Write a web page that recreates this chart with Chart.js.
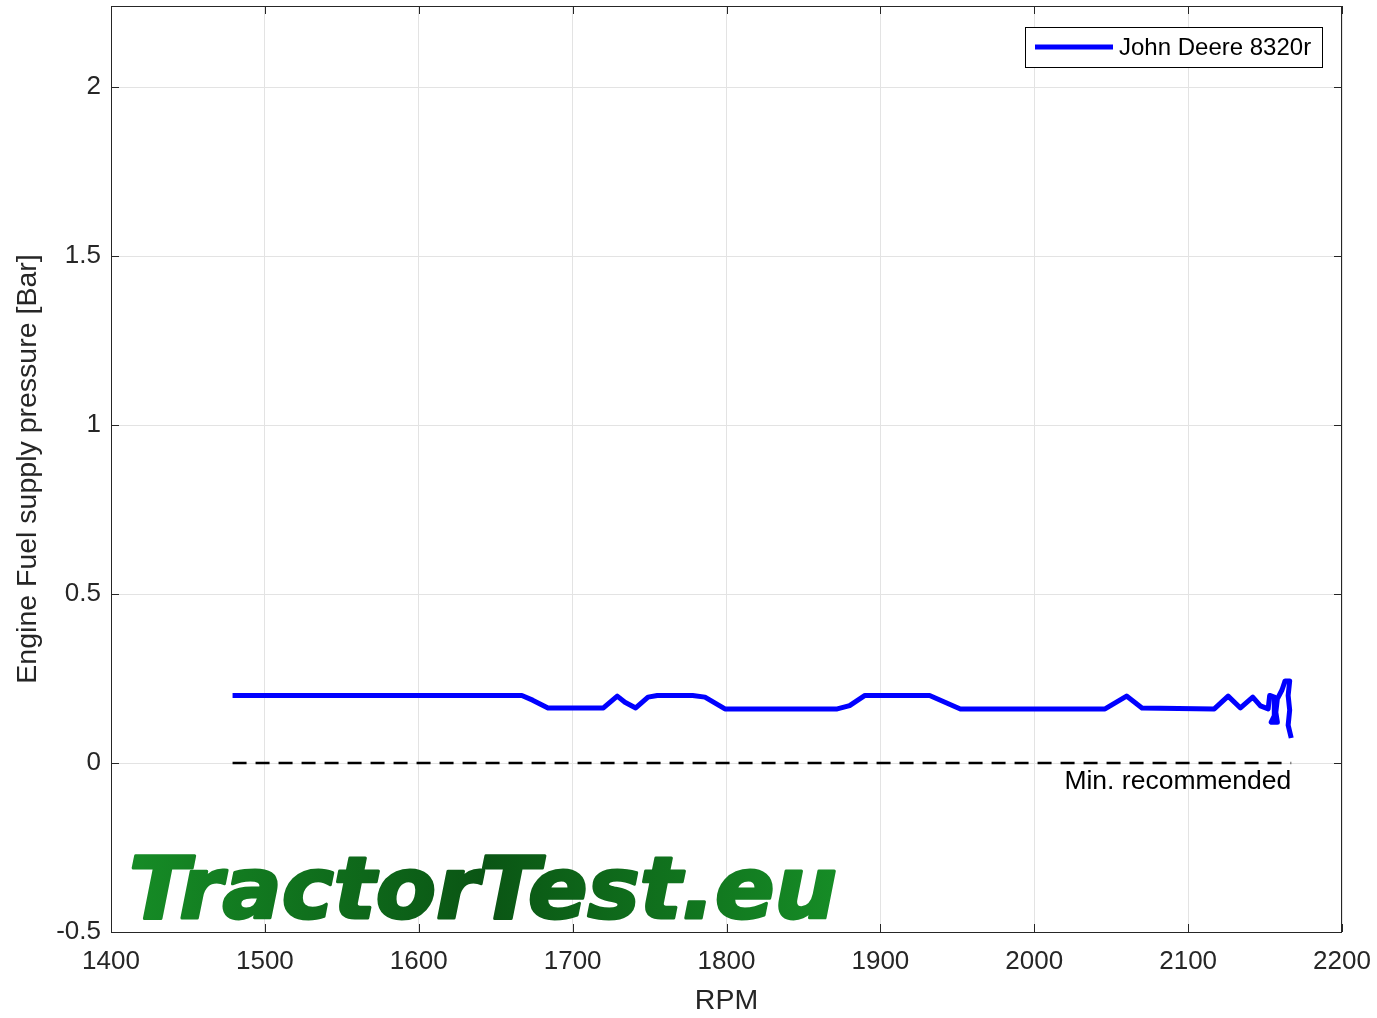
<!DOCTYPE html>
<html>
<head>
<meta charset="utf-8">
<script src="https://cdn.jsdelivr.net/npm/chart.js@4"></script>
<style>
  body { margin: 0; background: #fff; }
  #wrap { width: 1377px; height: 1018px; }
</style>
</head>
<body>
<div id="wrap"><canvas id="mycanvas" width="1377" height="1018"></canvas></div>
<script>
// measured curve, RPM vs supply pressure
var rpm = [1479, 1667, 1674, 1684, 1720, 1729, 1734, 1741, 1749, 1755, 1778, 1786, 1799,
           1872, 1880, 1890, 1932, 1949, 1952, 2046, 2060, 2070, 2117, 2126, 2134, 2142,
           2147, 2152, 2153, 2156, 2156, 2154, 2158, 2157, 2158, 2161, 2163, 2166, 2165,
           2166, 2165, 2167];
var pressure = [0.2, 0.2, 0.186, 0.163, 0.163, 0.198, 0.18, 0.163, 0.195, 0.2, 0.2, 0.195, 0.16,
                0.16, 0.17, 0.2, 0.2, 0.166, 0.16, 0.16, 0.198, 0.163, 0.16, 0.198, 0.163, 0.195,
                0.169, 0.16, 0.2, 0.195, 0.14, 0.121, 0.121, 0.15, 0.19, 0.216, 0.243, 0.243, 0.2,
                0.157, 0.112, 0.074];

var minRpm = [1479, 2167];
var minPressure = [0, 0];

var xTicks = [1400, 1500, 1600, 1700, 1800, 1900, 2000, 2100, 2200];
var yTicks = [-0.5, 0, 0.5, 1, 1.5, 2];

var seriesName = "John Deere 8320r";
var minLabel = "Min. recommended";
var watermark = "TractorTest.eu";

var txtColor = "#262626";
var fontFam = "'Liberation Sans', Arial, sans-serif";

function toPoints(xs, ys) {
  var pts = [];
  for (var i = 0; i < xs.length; i++) pts.push({x: xs[i], y: ys[i]});
  return pts;
}

var extras = {
  id: "extras",
  afterDatasetsDraw: function(chart) {
    var ctx = chart.ctx;
    var a = chart.chartArea;
    var xs = chart.scales.x, ys = chart.scales.y;
    ctx.save();

    // box + inward ticks
    ctx.strokeStyle = txtColor;
    ctx.lineWidth = 1;
    ctx.strokeRect(a.left + 0.5, a.top + 0.5, a.right - a.left - 1, a.bottom - a.top);
    ctx.beginPath();
    xTicks.forEach(function(v) {
      var px = Math.round(xs.getPixelForValue(v)) + 0.5;
      ctx.moveTo(px, a.bottom); ctx.lineTo(px, a.bottom - 8);
      ctx.moveTo(px, a.top); ctx.lineTo(px, a.top + 8);
    });
    yTicks.forEach(function(v) {
      var py = Math.round(ys.getPixelForValue(v)) + 0.5;
      ctx.moveTo(a.left, py); ctx.lineTo(a.left + 8, py);
      ctx.moveTo(a.right, py); ctx.lineTo(a.right - 8, py);
    });
    ctx.stroke();

    // min recommended label
    ctx.fillStyle = "#000";
    ctx.font = "26.5px " + fontFam;
    ctx.textAlign = "right";
    ctx.textBaseline = "middle";
    ctx.fillText(minLabel, xs.getPixelForValue(minRpm[1]), ys.getPixelForValue(0) + 19);

    // legend
    var lx = a.right - 317, ly = a.top + 21;
    ctx.fillStyle = "#fff";
    ctx.fillRect(lx, ly, 297, 40);
    ctx.strokeStyle = "#000";
    ctx.strokeRect(lx + 0.5, ly + 0.5, 297, 40);
    ctx.strokeStyle = "#0000ff";
    ctx.lineWidth = 5;
    ctx.beginPath();
    ctx.moveTo(lx + 10, ly + 20); ctx.lineTo(lx + 88, ly + 20);
    ctx.stroke();
    ctx.fillStyle = "#000";
    ctx.font = "24px " + fontFam;
    ctx.textAlign = "left";
    ctx.fillText(seriesName, lx + 94, ly + 21);

    // watermark
    var wx = a.left + 18, wBase = a.top + 912, wW = 708;
    ctx.font = "italic bold 86px 'DejaVu Sans', sans-serif";
    ctx.textAlign = "left";
    ctx.textBaseline = "alphabetic";
    var mw = ctx.measureText(watermark).width;
    var g = ctx.createLinearGradient(0, 0, mw, 0);
    g.addColorStop(0, "#168c26");
    g.addColorStop(0.5, "#0a5514");
    g.addColorStop(1, "#168c26");
    ctx.translate(wx, wBase);
    ctx.scale(wW / mw, 1);
    ctx.fillStyle = g;
    ctx.strokeStyle = g;
    ctx.lineWidth = 3;
    ctx.lineJoin = "round";
    ctx.fillText(watermark, 0, 0);
    ctx.strokeText(watermark, 0, 0);
    ctx.restore();
  }
};

var chartdata = {
  datasets: [
    {
      label: seriesName,
      data: toPoints(rpm, pressure),
      showLine: true,
      borderColor: "#0000ff",
      backgroundColor: "#0000ff",
      borderWidth: 5,
      pointRadius: 0,
      tension: 0,
      borderJoinStyle: "round"
    },
    {
      label: minLabel,
      data: toPoints(minRpm, minPressure),
      showLine: true,
      borderColor: "#000",
      borderWidth: 2.5,
      borderDash: [14, 9],
      pointRadius: 0
    }
  ]
};

var ctx = document.getElementById("mycanvas");

var LineGraph = new Chart(ctx, {
  type: "scatter",
  data: chartdata,
  plugins: [extras],
  options: {
    responsive: false,
    animation: false,
    layout: { padding: { top: 6, right: 35, left: 0, bottom: 0 } },
    plugins: { legend: { display: false }, tooltip: { enabled: false } },
    scales: {
      x: {
        type: "linear",
        min: 1400, max: 2200,
        afterFit: function(s) { s.height = 86; s.paddingLeft = 0; s.paddingRight = 0; },
        afterBuildTicks: function(s) { s.ticks = xTicks.map(function(v) { return {value: v}; }); },
        grid: { color: "#e3e3e3", drawTicks: false },
        border: { display: false },
        ticks: { color: txtColor, font: { family: fontFam, size: 26 }, padding: 14, maxRotation: 0,
                 callback: function(v) { return String(v); } },
        title: { display: true, text: "RPM", color: txtColor, font: { family: fontFam, size: 28.5 }, padding: { top: 2, bottom: 0 } }
      },
      y: {
        type: "linear",
        min: -0.5, max: 2.24,
        afterFit: function(s) { s.width = 111; s.paddingTop = 0; s.paddingBottom = 0; },
        afterBuildTicks: function(s) { s.ticks = yTicks.map(function(v) { return {value: v}; }); },
        grid: { color: "#e3e3e3", drawTicks: false },
        border: { display: false },
        ticks: { color: txtColor, font: { family: fontFam, size: 26 }, padding: 10,
                 callback: function(v) { return String(v); } },
        title: { display: true, text: "Engine Fuel supply pressure [Bar]", color: txtColor,
                 font: { family: fontFam, size: 28.5 }, padding: { top: 11, bottom: 0 } }
      }
    }
  }
});
</script>
</body>
</html>
